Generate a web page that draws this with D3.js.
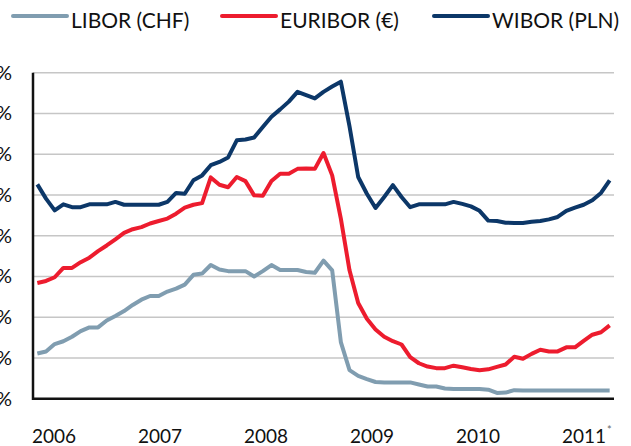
<!DOCTYPE html>
<html>
<head>
<meta charset="utf-8">
<script src="https://cdn.jsdelivr.net/npm/d3@7/dist/d3.min.js"></script>
<style>
  body { margin: 0; background: #fff; }
  svg text { font-family: Lato, 'Open Sans', sans-serif; fill: #111; }
</style>
</head>
<body>
<script>
//////////////////////////////////////////////////////////////////////////////
// Data, monthly values from Jan 2006
//////////////////////////////////////////////////////////////////////////////
let libor = [
  1.11, 1.16, 1.34, 1.41, 1.52, 1.66, 1.75, 1.75, 1.92, 2.03, 2.15, 2.30,
  2.43, 2.52, 2.52, 2.63, 2.70, 2.80, 3.04, 3.07, 3.28, 3.17, 3.13, 3.13,
  3.13, 3.00, 3.13, 3.28, 3.16, 3.16, 3.16, 3.11, 3.09, 3.39, 3.15, 1.39,
  0.70, 0.56, 0.48, 0.41, 0.40, 0.40, 0.40, 0.40, 0.35, 0.30, 0.30, 0.25,
  0.24, 0.24, 0.24, 0.24, 0.22, 0.14, 0.15, 0.21, 0.20, 0.20, 0.20, 0.20,
  0.20, 0.20, 0.20, 0.20, 0.20, 0.20, 0.20
]
let euribor = [
  2.84, 2.89, 2.98, 3.21, 3.21, 3.35, 3.46, 3.62, 3.76, 3.91, 4.07, 4.16,
  4.21, 4.30, 4.36, 4.42, 4.54, 4.69, 4.76, 4.80, 5.43, 5.25, 5.19, 5.44,
  5.34, 4.99, 4.98, 5.34, 5.52, 5.52, 5.64, 5.65, 5.64, 6.03, 5.48, 4.42,
  3.15, 2.35, 1.96, 1.70, 1.52, 1.41, 1.33, 1.02, 0.87, 0.79, 0.75, 0.75,
  0.81, 0.77, 0.73, 0.70, 0.72, 0.78, 0.84, 1.03, 0.98, 1.10, 1.20, 1.16,
  1.16, 1.26, 1.26, 1.42, 1.57, 1.63, 1.80
]
let wibor = [
  5.26, 4.91, 4.62, 4.77, 4.70, 4.70, 4.77, 4.77, 4.77, 4.83, 4.76, 4.76,
  4.76, 4.76, 4.76, 4.83, 5.05, 5.03, 5.36, 5.48, 5.73, 5.81, 5.92, 6.34,
  6.36, 6.41, 6.67, 6.92, 7.10, 7.29, 7.53, 7.45, 7.37, 7.53, 7.66, 7.78,
  6.68, 5.44, 5.03, 4.68, 4.95, 5.24, 4.95, 4.70, 4.77, 4.77, 4.77, 4.77,
  4.83, 4.78, 4.72, 4.61, 4.37, 4.36, 4.32, 4.31, 4.31, 4.34, 4.36, 4.40,
  4.46, 4.61, 4.69, 4.76, 4.87, 5.05, 5.36
]
let years = ['2006', '2007', '2008', '2009', '2010', '2011']
let yTicks = [0, 1, 2, 3, 4, 5, 6, 7, 8]
let names = ['LIBOR (CHF)', 'EURIBOR (€)', 'WIBOR (PLN)']
let colors = ['#809db0', '#ed1c2e', '#0c3768']

let width = 631
let height = 446
let plotLeft = 33
let plotRight = 614
let plotTop = 72.7
let plotBottom = 398.7

let svg = d3
  .select('body')
  .append('svg')
  .attr('width', width)
  .attr('height', height)

// scales
let x = d3
  .scaleLinear()
  .domain([-0.5, libor.length - 0.5])
  .range([plotLeft, plotRight])
let y = d3
  .scaleLinear()
  .domain([0, 8])
  .range([plotBottom, plotTop])
// year labels start at the year boundaries
let xYear = d3
  .scalePoint()
  .domain(years)
  .range([plotLeft - 1, plotLeft + 529])

// gridlines
svg
  .selectAll('.grid')
  .data(yTicks.slice(1))
  .join('line')
  .attr('class', 'grid')
  .attr('x1', plotLeft)
  .attr('x2', plotRight)
  .attr('y1', d => y(d))
  .attr('y2', d => y(d))
  .attr('stroke', '#c6c6c6')
  .attr('stroke-width', 1.6)

// y labels (numbers fall off the left edge like the original)
svg
  .selectAll('.ylab')
  .data(yTicks)
  .join('text')
  .attr('class', 'ylab')
  .attr('x', 12)
  .attr('y', d => y(d) + 7)
  .attr('text-anchor', 'end')
  .style('font-size', '20px')
  .text(d => d + '%')

// year labels
let yl = svg
  .selectAll('.xlab')
  .data(years)
  .join('text')
  .attr('class', 'xlab')
  .attr('x', d => xYear(d))
  .attr('y', 443)
  .attr('text-anchor', 'start')
  .style('font-size', '19px')
  .text(d => d)
yl.filter(d => d === '2011')
  .append('tspan')
  .attr('dx', 1)
  .attr('dy', -9)
  .style('font-size', '11px')
  .style('fill', '#666')
  .text('*')

// lines
let line = d3
  .line()
  .x((d, i) => x(i))
  .y(d => y(d))

let series = [libor, euribor, wibor]
svg
  .selectAll('.series')
  .data(series)
  .join('path')
  .attr('class', 'series')
  .attr('fill', 'none')
  .attr('stroke', (d, i) => colors[i])
  .attr('stroke-width', 4)
  .attr('stroke-linejoin', 'round')
  .attr('d', line)

// axes lines
svg
  .append('path')
  .attr('d', `M${plotLeft},${plotTop}V${plotBottom}H${plotRight}`)
  .attr('fill', 'none')
  .attr('stroke', '#111')
  .attr('stroke-width', 2.5)

// legend
let legendX = [13, 222, 434]
let legend = svg
  .selectAll('.legend')
  .data(names)
  .join('g')
  .attr('class', 'legend')
  .attr('transform', (d, i) => `translate(${legendX[i]},0)`)
legend
  .append('line')
  .attr('x1', 0)
  .attr('x2', 54)
  .attr('y1', 16)
  .attr('y2', 16)
  .attr('stroke', (d, i) => colors[i])
  .attr('stroke-width', 4)
  .attr('stroke-linecap', 'round')
legend
  .append('text')
  .attr('x', 58)
  .attr('y', 28)
  .style('font-size', '21px')
  .text(d => d)
</script>
</body>
</html>
